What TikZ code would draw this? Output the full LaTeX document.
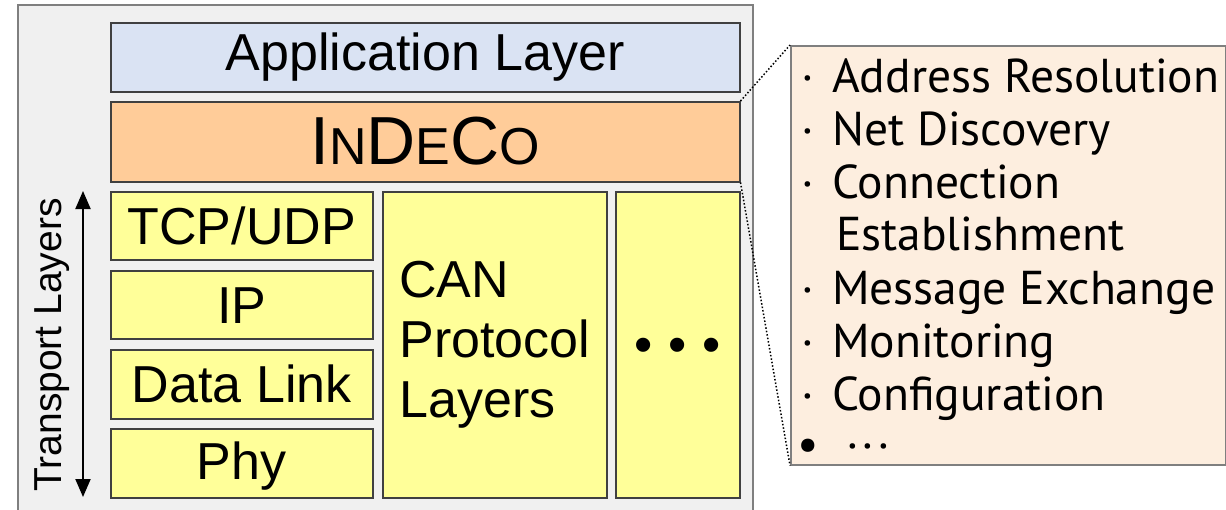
\documentclass[tikz,border=0pt]{standalone}
\usepackage{fontspec}
\setmainfont{Liberation Sans}
\newfontfamily\panelfont{PT Sans}
\usetikzlibrary{arrows.meta}
\definecolor{outerfill}{HTML}{F0F0F0}
\definecolor{outerline}{HTML}{7F7F7F}
\definecolor{boxline}{HTML}{404040}
\definecolor{appfill}{HTML}{DAE3F3}
\definecolor{indfill}{HTML}{FFCC99}
\definecolor{yelfill}{HTML}{FFFF99}
\definecolor{panelfill}{HTML}{FDEEDF}
\newcommand\sizeA{\fontsize{52}{60}\selectfont}
\newcommand\bulpt{\llap{\makebox[48pt][c]{·}}}
\begin{document}
\begin{tikzpicture}[x=1pt,y=-1pt,
  layerbox/.style={draw=boxline, line width=1.5pt, inner sep=0pt, anchor=north west, font=\sizeA},
  itm/.style={anchor=base west, inner sep=0pt, font=\panelfont\fontsize{47.5}{53}\selectfont}]
\useasboundingbox (0,0) rectangle (1226,509);
% outer frame
\draw[draw=outerline, fill=outerfill, line width=2pt] (18,5) rectangle (753,520);
% layers
\node[layerbox, fill=appfill, minimum width=629pt, minimum height=69pt, text height=38pt, text depth=11pt] (app) at (110,22) {Application Layer};
\node[layerbox, fill=indfill, minimum width=629pt, minimum height=80pt, text height=49pt, text depth=3pt, font=\fontsize{68}{70}\selectfont] (indeco) at (110,101) {I{\sizeA N}D{\sizeA E}C{\sizeA O}};
\node[layerbox, fill=yelfill, minimum width=262pt, minimum height=68pt, text height=40pt, text depth=2pt] (tcp) at (110,191) {TCP/UDP};
\node[layerbox, fill=yelfill, minimum width=262pt, minimum height=68pt, text height=40pt, text depth=2pt] (ip) at (110,270) {IP};
\node[layerbox, fill=yelfill, minimum width=262pt, minimum height=69pt, text height=40pt, text depth=3pt] (dl) at (110,349) {Data Link};
\node[layerbox, fill=yelfill, minimum width=262pt, minimum height=69pt, text height=40pt, text depth=7pt] (phy) at (110,428) {Phy};
\node[layerbox, fill=yelfill, minimum width=224pt, minimum height=306pt, align=left] (can) at (382,191) {CAN\\Protocol\\Layers};
\node[layerbox, fill=yelfill, minimum width=124pt, minimum height=306pt, text height=38pt, text depth=2pt] (more) at (615,191) {•\hspace{16pt}•\hspace{16pt}•};
% transport arrow
\coordinate (tTop) at (83,191);
\coordinate (tBot) at (83,497);
\draw[line width=2pt, {Triangle[width=15pt,length=18pt]}-{Triangle[width=15pt,length=18pt]}] (tTop) -- (tBot);
\node[rotate=90, anchor=base, inner sep=0pt, font=\fontsize{39}{40}\selectfont] (tl) at (61,345) {Transport Layers};
% detail panel
\node[draw=outerline, fill=panelfill, line width=1.5pt, anchor=north west, minimum width=435pt, minimum height=419pt, inner sep=0pt] (panel) at (790,45) {};
\node[itm] (i1) at (832,92) {\bulpt Address Resolution};
\node[itm] (i2) at (832,145) {\bulpt Net Discovery};
\node[itm] (i3) at (832,198) {\bulpt Connection};
\node[itm] (i4) at (836,250) {Establishment};
\node[itm] (i5) at (832,304) {\bulpt Message Exchange};
\node[itm] (i6) at (832,357) {\bulpt Monitoring};
\node[itm] (i7) at (832,410) {\bulpt Configuration};
\node[itm] (i8) at (832,460) {\llap{\makebox[48pt][c]{•}}\hspace{14pt}·\hspace{3pt}·\hspace{3pt}·};
% zoom connectors
\draw[dotted, line width=1.5pt] (indeco.north east) -- (panel.north west);
\draw[dotted, line width=1.5pt] (indeco.south east) -- (panel.south west);
\end{tikzpicture}
\end{document}
